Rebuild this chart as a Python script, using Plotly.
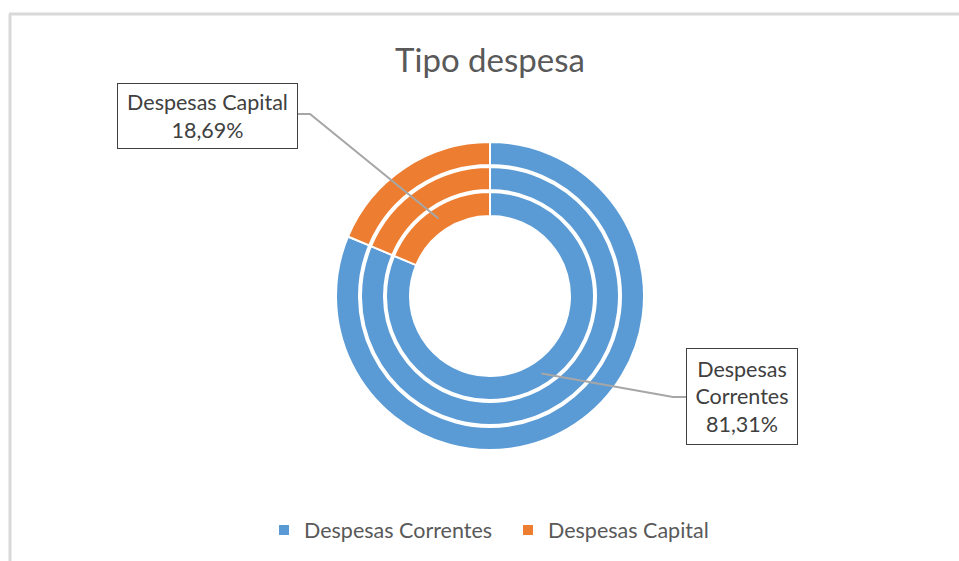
import math
import plotly.graph_objects as go

W, H = 959, 561

categories = ["Despesas Correntes", "Despesas Capital"]
ring_values = [
    [81.31, 18.69],  # outer ring
    [81.31, 18.69],  # middle ring
    [81.31, 18.69],  # inner ring
]
colors = ["#5B9BD5", "#ED7D31"]
title_text = "Tipo despesa"

# layout geometry (pixels)
cx, cy = 490, 296
rings_px = [(154, 131), (129, 106), (104, 80)]  # (outer, inner) radius


def px(x):
    return x / W


def py(y):
    return 1 - y / H


fig = go.Figure()
for vals, (ro, ri) in zip(ring_values, rings_px):
    fig.add_trace(go.Pie(
        labels=categories,
        values=vals,
        sort=False,
        direction="clockwise",
        rotation=0,
        hole=ri / ro,
        textinfo="none",
        hoverinfo="label+percent",
        marker=dict(colors=colors, line=dict(color="white", width=2)),
        domain=dict(x=[px(cx - ro), px(cx + ro)], y=[py(cy + ro), py(cy - ro)]),
    ))

# label anchors computed from inner-ring slice mid-angles
total = sum(ring_values[2])
fr_corr = ring_values[2][0] / total
fr_cap = ring_values[2][1] / total
r_anchor = 93


def anchor(frac_mid_clockwise):
    a = 2 * math.pi * frac_mid_clockwise
    return cx + r_anchor * math.sin(a), cy - r_anchor * math.cos(a)


ax_corr, ay_corr = anchor(fr_corr / 2)
ax_cap, ay_cap = anchor(1 - fr_cap / 2)

fmt = lambda v: f"{v:.2f}".replace(".", ",") + "%"

font_main = "Lato, Carlito, Calibri, sans-serif"
txt_color = "#404040"

# boxes
cap_box = (117, 83, 298, 149)
cor_box = (686, 348, 798, 445)

annotations = [
    dict(text=f"{categories[1]}<br>{fmt(ring_values[2][1])}",
         x=px((cap_box[0] + cap_box[2]) / 2), y=py((cap_box[1] + cap_box[3]) / 2),
         width=cap_box[2] - cap_box[0] - 6, height=cap_box[3] - cap_box[1] - 6),
    dict(text=f"Despesas<br>Correntes<br>{fmt(ring_values[2][0])}",
         x=px((cor_box[0] + cor_box[2]) / 2), y=py((cor_box[1] + cor_box[3]) / 2),
         width=cor_box[2] - cor_box[0] - 6, height=cor_box[3] - cor_box[1] - 6),
]
for a in annotations:
    a.update(xref="paper", yref="paper", xanchor="center", yanchor="middle",
             showarrow=False, bordercolor="#404040", borderwidth=1, borderpad=2,
             bgcolor="white", font=dict(family=font_main, size=21.5, color=txt_color))

line_style = dict(color="#A6A6A6", width=2)
shapes = [
    # frame
    dict(type="line", xref="paper", yref="paper", x0=px(9), x1=px(W), y0=py(14), y1=py(14),
         line=dict(color="#D9D9D9", width=3)),
    dict(type="line", xref="paper", yref="paper", x0=px(10), x1=px(10), y0=py(14), y1=py(H),
         line=dict(color="#D9D9D9", width=3)),
    # leader lines
    dict(type="path", xref="paper", yref="paper",
         path=f"M {px(cap_box[2])},{py(114)} L {px(310)},{py(114)} L {px(ax_cap)},{py(ay_cap)}",
         line=line_style),
    dict(type="path", xref="paper", yref="paper",
         path=f"M {px(ax_corr)},{py(ay_corr)} L {px(673)},{py(397)} L {px(cor_box[0])},{py(397)}",
         line=line_style),
]

fig.update_layout(
    width=W, height=H,
    margin=dict(l=0, r=0, t=0, b=0),
    paper_bgcolor="white",
    title=dict(text=title_text, x=px(490), xanchor="center", y=py(60), yanchor="middle",
               font=dict(family=font_main, size=33, color="#595959")),
    legend=dict(orientation="h", x=px(508), xanchor="center", y=py(530), yanchor="middle",
                font=dict(family=font_main, size=21.5, color="#595959"),
                itemwidth=30, tracegroupgap=0, entrywidth=199, entrywidthmode="pixels"),
    annotations=annotations,
    shapes=shapes,
)

fig.write_html("out.html", config={"displayModeBar": False},
               post_script="document.body.style.margin='0';")
